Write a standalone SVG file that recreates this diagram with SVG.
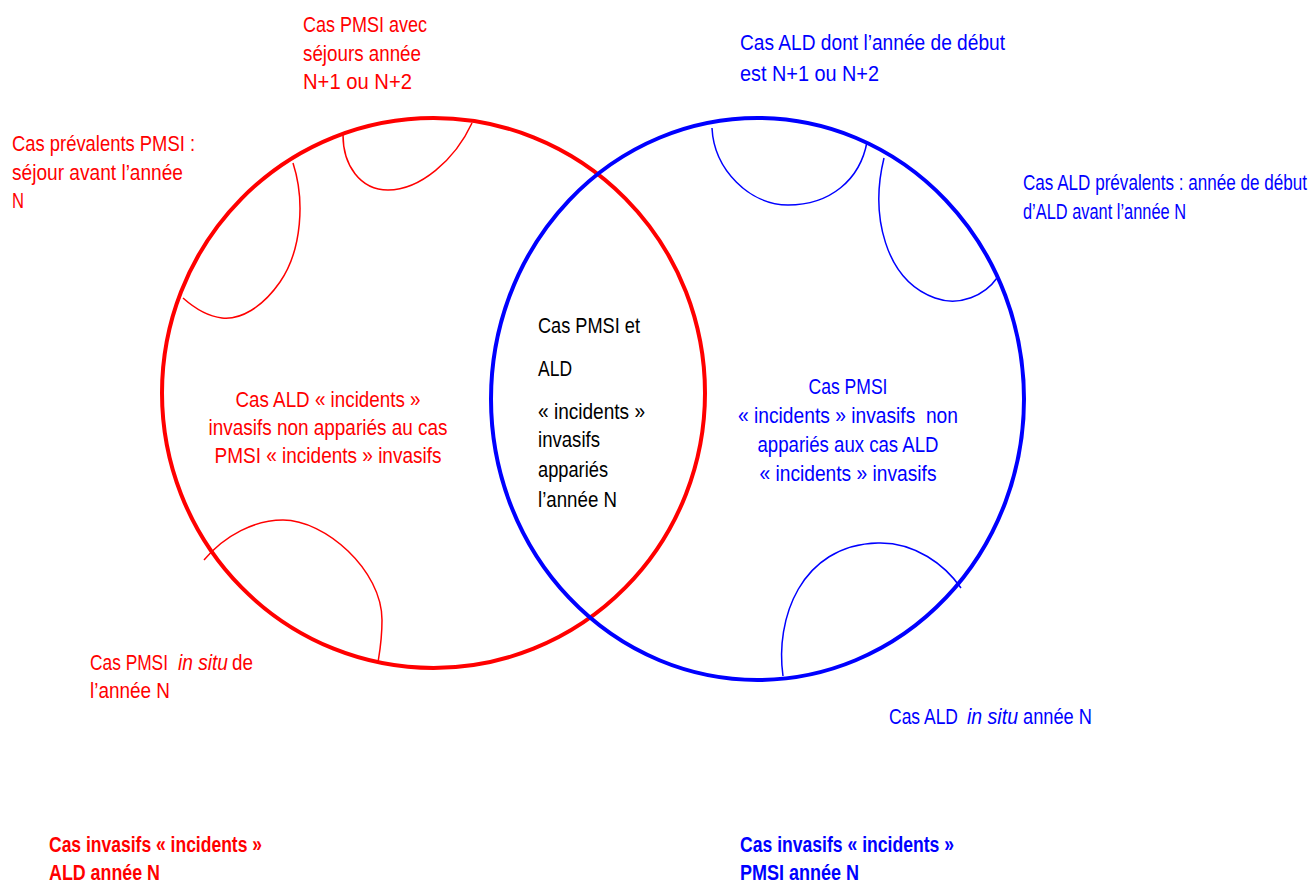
<svg xmlns="http://www.w3.org/2000/svg" width="1314" height="883" viewBox="0 0 1314 883">
  <style>
    text { font-family: "Liberation Sans", Arial, sans-serif; font-size: 22px; }
    .red { fill: #ff0000; }
    .blue { fill: #0000ff; }
    .black { fill: #000000; }
    .mid { text-anchor: middle; }
    .bold { font-weight: bold; }
    .it { font-style: italic; }
    .set { fill: none; stroke-width: 4; }
    .sub { fill: none; stroke-width: 1.5; }
    .r { stroke: #ff0000; }
    .b { stroke: #0000ff; }
  </style>
  <rect width="1314" height="883" fill="#ffffff"/>

  <!-- the two overlapping sets -->
  <g id="set-ald">
    <ellipse class="set r" cx="433.5" cy="393" rx="271.5" ry="275"/>
  </g>
  <g id="set-pmsi">
    <ellipse class="set b" cx="757.5" cy="399" rx="266.5" ry="281"/>
  </g>

  <!-- excluded sub-groups drawn as lobes on the rims -->
  <g id="lobes">
    <path class="sub r" d="M343,135 C343,165 360,190 388,190 C420,190 455,160 472,123"/>
    <path class="sub r" d="M293,163 C305,200 302,250 280,282 C262,308 240,320 222,318 C205,316 192,306 183,298"/>
    <path class="sub r" d="M204,560 C225,535 255,520 283,520 C325,520 382,570 382,620 C382,640 380,650 378,662"/>
    <path class="sub b" d="M712,128 C714,170 750,205 788,205 C830,205 860,180 867,142"/>
    <path class="sub b" d="M884,158 C870,215 885,280 935,298 C960,307 985,295 997,278"/>
    <path class="sub b" d="M783,676 C775,620 800,545 878,543 C915,542 945,565 961,588"/>
  </g>

  <!-- labels for the ALD side -->
  <g id="label-pmsi-n1n2" class="red">
    <text x="303" y="32" textLength="124" lengthAdjust="spacingAndGlyphs">Cas PMSI avec</text>
    <text x="303" y="61" textLength="118" lengthAdjust="spacingAndGlyphs">séjours année</text>
    <text x="303" y="89" textLength="109" lengthAdjust="spacingAndGlyphs">N+1 ou N+2</text>
  </g>
  <g id="label-pmsi-prevalents" class="red">
    <text x="12" y="151" textLength="183" lengthAdjust="spacingAndGlyphs">Cas prévalents PMSI :</text>
    <text x="12" y="180" textLength="171" lengthAdjust="spacingAndGlyphs">séjour avant l’année</text>
    <text x="12" y="208" textLength="12" lengthAdjust="spacingAndGlyphs">N</text>
  </g>
  <g id="label-ald-only" class="red mid">
    <text x="328" y="407" textLength="185" lengthAdjust="spacingAndGlyphs">Cas ALD « incidents »</text>
    <text x="328" y="435" textLength="239" lengthAdjust="spacingAndGlyphs">invasifs non appariés au cas</text>
    <text x="328" y="463" textLength="227" lengthAdjust="spacingAndGlyphs">PMSI « incidents » invasifs</text>
  </g>
  <g id="label-pmsi-insitu" class="red">
    <text x="90" y="670" textLength="78" lengthAdjust="spacingAndGlyphs">Cas PMSI</text>
    <text class="it" x="178" y="670" textLength="50" lengthAdjust="spacingAndGlyphs">in situ</text>
    <text x="232" y="670" textLength="21" lengthAdjust="spacingAndGlyphs">de</text>
    <text x="90" y="698" textLength="80" lengthAdjust="spacingAndGlyphs">l’année N</text>
  </g>
  <g id="legend-ald" class="red bold">
    <text x="49" y="852" textLength="213" lengthAdjust="spacingAndGlyphs">Cas invasifs « incidents »</text>
    <text x="49" y="880" textLength="111" lengthAdjust="spacingAndGlyphs">ALD année N</text>
  </g>

  <!-- labels for the PMSI side -->
  <g id="label-ald-n1n2" class="blue">
    <text x="740" y="50" textLength="265" lengthAdjust="spacingAndGlyphs">Cas ALD dont l’année de début</text>
    <text x="740" y="81" textLength="139" lengthAdjust="spacingAndGlyphs">est N+1 ou N+2</text>
  </g>
  <g id="label-ald-prevalents" class="blue">
    <text x="1023" y="190" font-size="19" textLength="284" lengthAdjust="spacingAndGlyphs">Cas ALD prévalents : année de début</text>
    <text x="1023" y="219" textLength="163" lengthAdjust="spacingAndGlyphs">d’ALD avant l’année N</text>
  </g>
  <g id="label-pmsi-only" class="blue mid">
    <text x="848" y="394" textLength="79" lengthAdjust="spacingAndGlyphs">Cas PMSI</text>
    <text x="848" y="423" textLength="220" lengthAdjust="spacingAndGlyphs" xml:space="preserve">« incidents » invasifs  non</text>
    <text x="848" y="452" textLength="181" lengthAdjust="spacingAndGlyphs">appariés aux cas ALD</text>
    <text x="848" y="481" textLength="177" lengthAdjust="spacingAndGlyphs">« incidents » invasifs</text>
  </g>
  <g id="label-ald-insitu" class="blue">
    <text x="889" y="724" textLength="69" lengthAdjust="spacingAndGlyphs">Cas ALD</text>
    <text class="it" x="967" y="724" textLength="51" lengthAdjust="spacingAndGlyphs">in situ</text>
    <text x="1023" y="724" textLength="69" lengthAdjust="spacingAndGlyphs">année N</text>
  </g>
  <g id="legend-pmsi" class="blue bold">
    <text x="740" y="852" textLength="214" lengthAdjust="spacingAndGlyphs">Cas invasifs « incidents »</text>
    <text x="740" y="880" textLength="119" lengthAdjust="spacingAndGlyphs">PMSI année N</text>
  </g>

  <!-- intersection -->
  <g id="label-both" class="black">
    <text x="538" y="333" textLength="102" lengthAdjust="spacingAndGlyphs">Cas PMSI et</text>
    <text x="538" y="376" textLength="34" lengthAdjust="spacingAndGlyphs">ALD</text>
    <text x="538" y="419" textLength="107" lengthAdjust="spacingAndGlyphs">« incidents »</text>
    <text x="538" y="447" textLength="62" lengthAdjust="spacingAndGlyphs">invasifs</text>
    <text x="538" y="477" textLength="70" lengthAdjust="spacingAndGlyphs">appariés</text>
    <text x="538" y="507" textLength="79" lengthAdjust="spacingAndGlyphs">l’année N</text>
  </g>
</svg>
